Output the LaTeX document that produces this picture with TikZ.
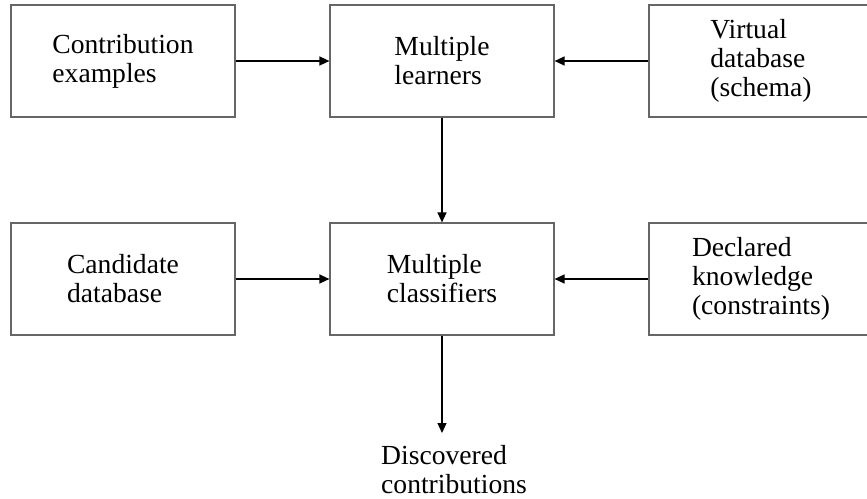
\documentclass[tikz,border=0pt]{standalone}
\usepackage{fontspec}
\setmainfont{Liberation Serif}
\usetikzlibrary{arrows.meta}
\begin{document}
\begin{tikzpicture}[x=1pt,y=-1pt,
  txt/.style={font=\fontsize{27.6}{29}\selectfont, align=left},
  box/.style={txt, draw=black!60, line width=1.2pt, minimum width=224pt, minimum height=112pt, inner sep=0pt},
  conn/.style={line width=1.3pt, -{Triangle[length=10pt,width=9pt]}}]
\useasboundingbox (0,0) rectangle (867,498);
\node[box] (ce) at (123,61) {Contribution\\examples};
\node[box] (ml) at (442,61) {Multiple\\learners};
\node[box] (vd) at (761,61) {Virtual\\database\\(schema)};
\node[box] (cd) at (123,279) {Candidate\\database};
\node[box] (mc) at (442,279) {Multiple\\classifiers};
\node[box] (dk) at (761,279) {Declared\\knowledge\\(constraints)};
\node[txt, anchor=north west, inner xsep=0pt, inner ysep=12pt] (dc) at (381,433) {Discovered\\contributions};
\draw[conn] (ce) -- (ml);
\draw[conn] (vd) -- (ml);
\draw[conn] (ml) -- (mc);
\draw[conn] (cd) -- (mc);
\draw[conn] (dk) -- (mc);
\draw[conn] (mc.south) -- (mc.south |- dc.north);
\end{tikzpicture}
\end{document}
